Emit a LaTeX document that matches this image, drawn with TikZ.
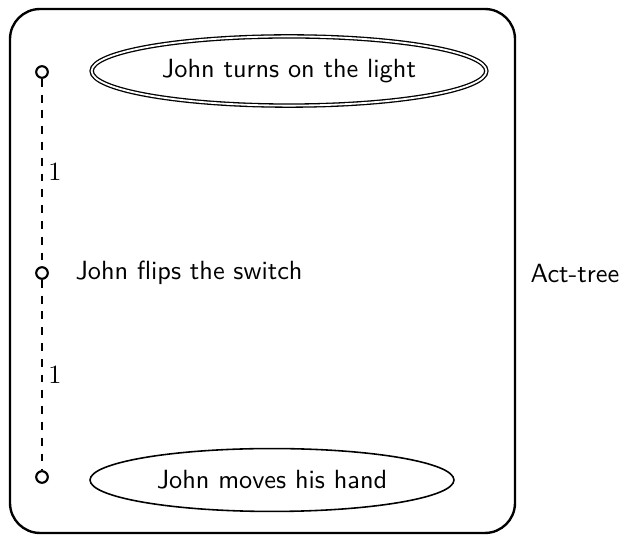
\documentclass[tikz,border=0pt]{standalone}
\usetikzlibrary{shapes.geometric}
\begin{document}
\begin{tikzpicture}[x=0.38pt,y=-0.38pt,
  every node/.style={font=\sffamily},
  frame/.style={draw, line width=0.9pt, rounded corners=11.4pt, inner sep=0pt,
    minimum width=191.9pt, minimum height=199.1pt},
  dot/.style={circle, draw, thick, inner sep=0pt, minimum size=4.4pt},
  act/.style={ellipse, draw, semithick, inner sep=0pt},
  link/.style={dashed, thick},
  num/.style={right, inner sep=2pt, font=\rmfamily}]
\useasboundingbox (0,0) rectangle (631,536);
\node[frame] (box) at (262.5,271) {};
\node (tree) at (575,274) {Act-tree};
\node[dot] (c1) at (42,72) {};
\node[dot] (c2) at (42,273) {};
\node[dot] (c3) at (42,477) {};
\node[act, double, line width=0.5pt, double distance=0.7pt, minimum width=150pt, minimum height=26.3pt] (e1) at (289,71) {John turns on the light};
\node[right, inner sep=0pt] (t2) at (75,273) {John flips the switch};
\node[act, minimum width=138.3pt, minimum height=23.9pt] (e3) at (272,480) {John moves his hand};
\draw[link] (c1) -- node[num] {$1$} (c2);
\draw[link] (c2) -- node[num] {$1$} (c3);
\end{tikzpicture}
\end{document}
